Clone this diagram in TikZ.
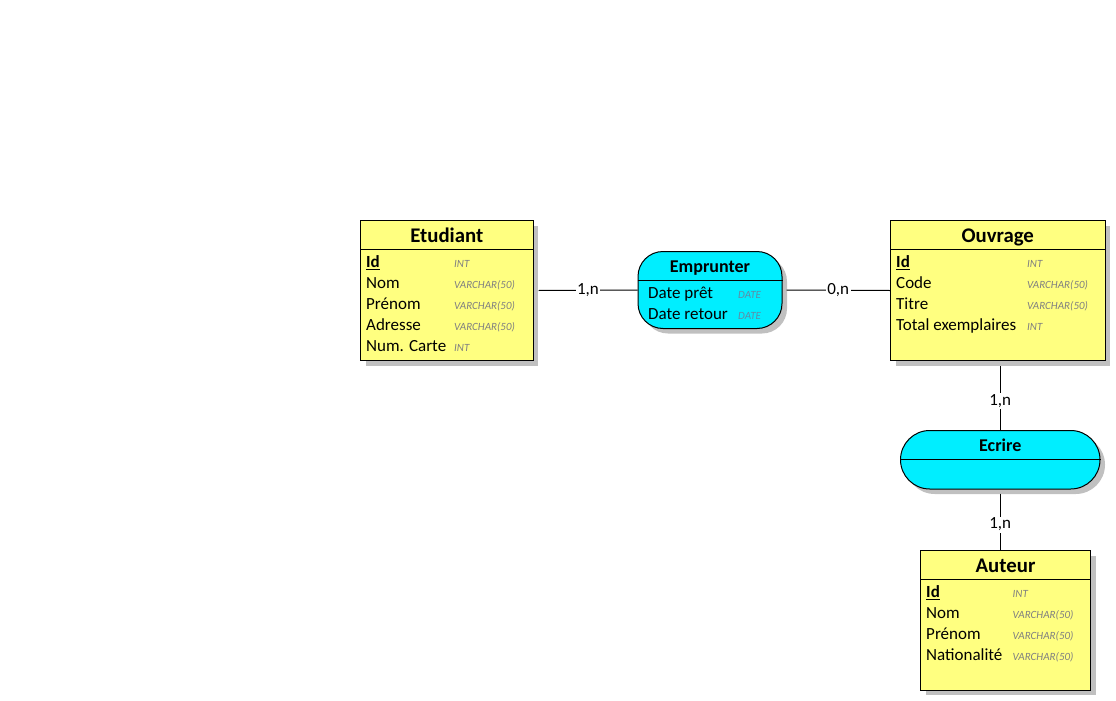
\documentclass[tikz,border=0pt]{standalone}
\usepackage{fontspec}
\setmainfont{Carlito}
\usepackage{tikz}
\usetikzlibrary{shadows}
\usetikzlibrary{shapes.misc}

\definecolor{entyellow}{RGB}{255,255,128}
\definecolor{relcyan}{RGB}{0,238,255}
\definecolor{shadowgrey}{RGB}{192,192,192}
\definecolor{typegrey}{RGB}{128,128,128}
\definecolor{datecol}{RGB}{95,140,165}

\tikzset{
  boxshadow/.style={drop shadow={shadow xshift=5pt, shadow yshift=-5pt, fill=shadowgrey, opacity=1}},
  entity/.style={draw, line width=1pt, fill=entyellow, inner sep=0pt, boxshadow},
  relation/.style={draw, line width=1pt, fill=relcyan, inner sep=0pt, rounded corners=25pt, boxshadow},
  relround/.style={rounded rectangle, draw, line width=1pt, fill=relcyan, inner sep=0pt, boxshadow},
  enttitle/.style={anchor=base, inner sep=0pt, font=\fontsize{20.8}{22}\selectfont\bfseries},
  reltitle/.style={anchor=base, inner sep=0pt, font=\fontsize{18}{20}\selectfont\bfseries},
  attr/.style={anchor=base west, inner sep=0pt, font=\fontsize{17}{18}\selectfont},
  dtype/.style={anchor=base west, inner sep=0pt, text=typegrey, font=\fontsize{11}{12}\selectfont\itshape},
  link/.style={line width=1pt},
  card/.style={fill=white, inner sep=1.5pt, font=\fontsize{17}{18}\selectfont}
}

\begin{document}
\begin{tikzpicture}[x=1pt,y=-1pt]
\useasboundingbox (0,0) rectangle (1116,701);

% Etudiant
\node[entity, minimum width=172.5pt, minimum height=140pt] (etudiant) at (446.75,290.5) {};
\node[enttitle] (etudiant-t) at (446.75,242) {Etudiant};
\draw[link] ([yshift=-29pt]etudiant.north west) -- ([yshift=-29pt]etudiant.north east);
\node[attr] (etudiant-id) at (366,267.5) {\underline{\textbf{Id}}};
\node[dtype] (etudiant-id-t) at (454,267.5) {INT};
\node[attr] (etudiant-nom) at (366,288.5) {Nom};
\node[dtype] (etudiant-nom-t) at (454,288.5) {VARCHAR(50)};
\node[attr] (etudiant-prenom) at (366,309.5) {Prénom};
\node[dtype] (etudiant-prenom-t) at (454,309.5) {VARCHAR(50)};
\node[attr] (etudiant-adresse) at (366,330.5) {Adresse};
\node[dtype] (etudiant-adresse-t) at (454,330.5) {VARCHAR(50)};
\node[attr] (etudiant-carte) at (366,351.5) {Num. Carte};
\node[dtype] (etudiant-carte-t) at (454,351.5) {INT};

% Ouvrage
\node[entity, minimum width=214.5pt, minimum height=140pt] (ouvrage) at (997.75,290.5) {};
\node[enttitle] (ouvrage-t) at (997.75,242) {Ouvrage};
\draw[link] ([yshift=-29.5pt]ouvrage.north west) -- ([yshift=-29.5pt]ouvrage.north east);
\node[attr] (ouvrage-id) at (896,267.5) {\underline{\textbf{Id}}};
\node[dtype] (ouvrage-id-t) at (1027,267.5) {INT};
\node[attr] (ouvrage-code) at (896,288.5) {Code};
\node[dtype] (ouvrage-code-t) at (1027,288.5) {VARCHAR(50)};
\node[attr] (ouvrage-titre) at (896,309.5) {Titre};
\node[dtype] (ouvrage-titre-t) at (1027,309.5) {VARCHAR(50)};
\node[attr] (ouvrage-total) at (896,330.5) {Total exemplaires};
\node[dtype] (ouvrage-total-t) at (1027,330.5) {INT};

% Auteur
\node[entity, minimum width=170pt, minimum height=139.5pt] (auteur) at (1005.5,620.25) {};
\node[enttitle] (auteur-t) at (1005.5,572) {Auteur};
\draw[link] ([yshift=-29.5pt]auteur.north west) -- ([yshift=-29.5pt]auteur.north east);
\node[attr] (auteur-id) at (926,597.5) {\underline{\textbf{Id}}};
\node[dtype] (auteur-id-t) at (1012.5,597.5) {INT};
\node[attr] (auteur-nom) at (926,618.5) {Nom};
\node[dtype] (auteur-nom-t) at (1012.5,618.5) {VARCHAR(50)};
\node[attr] (auteur-prenom) at (926,639.5) {Prénom};
\node[dtype] (auteur-prenom-t) at (1012.5,639.5) {VARCHAR(50)};
\node[attr] (auteur-nation) at (926,660.5) {Nationalité};
\node[dtype] (auteur-nation-t) at (1012.5,660.5) {VARCHAR(50)};

% Emprunter
\node[relation, minimum width=144pt, minimum height=77pt] (emprunter) at (710,290) {};
\node[reltitle] (emprunter-t) at (710,272.5) {Emprunter};
\draw[link] ([yshift=-29.5pt]emprunter.north west) -- ([yshift=-29.5pt]emprunter.north east);
\node[attr] (emprunter-pret) at (648,298.5) {Date prêt};
\node[dtype, text=datecol] (emprunter-pret-t) at (738,298.5) {DATE};
\node[attr] (emprunter-retour) at (648,319.5) {Date retour};
\node[dtype, text=datecol] (emprunter-retour-t) at (738,319.5) {DATE};

% Ecrire
\node[relround, minimum width=199.5pt, minimum height=58.5pt] (ecrire) at (1000.25,459.75) {};
\node[reltitle] (ecrire-t) at (1000.25,451.5) {Ecrire};
\draw[link] (ecrire.west) -- (ecrire.east);

% liens
\draw[link] ([xshift=5pt]etudiant.east) -- node[card] (card-etu) {1,n} (emprunter.west);
\draw[link] ([xshift=4pt]emprunter.east) -- node[card] (card-ouv) {0,n} (ouvrage.west);
\draw[link] ([yshift=-5pt]ouvrage.south -| ecrire.north) -- node[card, pos=0.55] (card-ecr) {1,n} (ecrire.north);
\draw[link] ([yshift=-4pt]ecrire.south) -- node[card, pos=0.55] (card-aut) {1,n} (ecrire.south |- auteur.north);
\end{tikzpicture}
\end{document}
